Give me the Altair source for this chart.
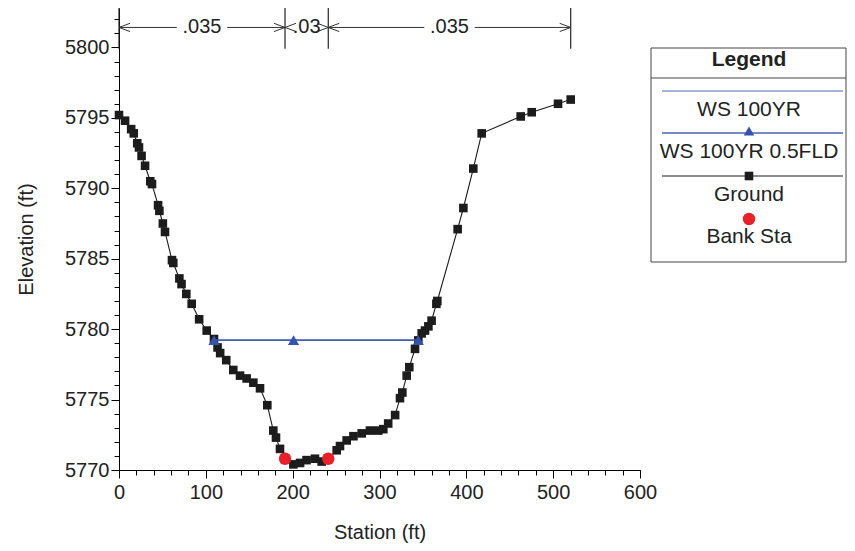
import altair as alt
import pandas as pd

# ---------------- data ----------------
ground_station = [0, 7, 14, 17, 21, 23, 26, 30, 36, 38, 45, 46.5, 50.5, 53, 61, 62.5,
                  69.5, 72, 77.5, 83.7, 92.3, 101, 109.4, 113.5, 116.5, 123.5, 131.6,
                  139.4, 147, 154.7, 162.4, 170.8, 177.7, 180.8, 185.4, 191.2, 200.8,
                  208.5, 216, 225.7, 233.4, 241, 250.7, 254.5, 262.2, 270, 279.5, 289,
                  298.6, 304.4, 310, 318, 323.6, 326.3, 331.3, 334.3, 340.9, 344.7,
                  348.6, 352.4, 356.3, 360, 365.5, 366.6, 390, 396.6, 408, 417.7,
                  462.6, 475.3, 505.6, 520.2]
ground_elev = [5795.2, 5794.8, 5794.2, 5793.9, 5793.2, 5792.9, 5792.3, 5791.6, 5790.5,
               5790.3, 5788.8, 5788.4, 5787.5, 5786.9, 5784.9, 5784.7, 5783.6, 5783.2,
               5782.5, 5781.8, 5780.7, 5779.9, 5779.3, 5778.7, 5778.3, 5777.8, 5777.1,
               5776.7, 5776.5, 5776.2, 5775.8, 5774.6, 5772.8, 5772.3, 5771.5, 5770.8,
               5770.4, 5770.5, 5770.7, 5770.8, 5770.6, 5770.8, 5771.4, 5771.7, 5772.1,
               5772.4, 5772.6, 5772.8, 5772.8, 5772.9, 5773.3, 5773.9, 5775.1, 5775.5,
               5776.7, 5777.3, 5778.6, 5779.2, 5779.7, 5779.9, 5780.2, 5780.6, 5781.8,
               5782.0, 5787.1, 5788.6, 5791.4, 5793.9, 5795.1, 5795.4, 5796.0, 5796.3]

ws_station = [109.4, 201.0, 344.7]
ws_100yr_elev = [5779.22, 5779.22, 5779.22]
ws_05fld_elev = [5779.22, 5779.22, 5779.22]

bank_station = [191.2, 241.0]
bank_elev = [5770.8, 5770.8]

n_break_station = [0, 191.2, 241.0, 520.2]
n_values = [".035", ".03", ".035"]
n_label_elev = 5801.42
n_line_bottom = 5799.9

x_major = [0, 100, 200, 300, 400, 500, 600]
x_minor = list(range(0, 601, 20))
y_major = [5770, 5775, 5780, 5785, 5790, 5795, 5800]
y_minor = list(range(5770, 5803))

legend_labels = ["WS 100YR", "WS 100YR 0.5FLD", "Ground", "Bank Sta"]

# ---------------- styling ----------------
FONT = "Liberation Sans"
BLUE = "#3553aa"
BLUE_LIGHT = "#4a64b4"
BLACK = "#1c1c1c"
RED = "#e8202a"
X_DOMAIN = [0, 600]
Y_DOMAIN = [5770, 5802.8]
W, H = 521, 462
FS = 20

xs = alt.Scale(domain=X_DOMAIN, nice=False, zero=False)
ys = alt.Scale(domain=Y_DOMAIN, nice=False, zero=False)

ground = pd.DataFrame({"station": ground_station, "elev": ground_elev})
ws1 = pd.DataFrame({"station": ws_station, "elev": ws_100yr_elev})
ws2 = pd.DataFrame({"station": ws_station, "elev": ws_05fld_elev})
bank = pd.DataFrame({"station": bank_station, "elev": bank_elev})
one = pd.DataFrame({"a": [0]})

major_x_axis = alt.Axis(values=x_major, title="Station (ft)", orient="bottom", tickSize=8,
                        labelFontSize=FS, titleFontSize=FS, labelFont=FONT, titleFont=FONT,
                        labelColor="#222", titleColor="#222", titleFontWeight="normal",
                        labelPadding=4, titlePadding=20, domainColor="#000", tickColor="#000",
                        grid=False, format="d", labelFlush=False)
major_y_axis = alt.Axis(values=y_major, title="Elevation (ft)", orient="left", tickSize=8,
                        labelFontSize=FS, titleFontSize=FS, labelFont=FONT, titleFont=FONT,
                        labelColor="#222", titleColor="#222", titleFontWeight="normal",
                        labelPadding=2, titlePadding=28, domainColor="#000", tickColor="#000",
                        grid=False, format="d", labelFlush=False)
minor_x_axis = alt.Axis(values=x_minor, title=None, orient="bottom", tickSize=5, labels=False,
                        domain=False, tickColor="#000", grid=False)
minor_y_axis = alt.Axis(values=y_minor, title=None, orient="left", tickSize=5, labels=False,
                        domain=False, tickColor="#000", grid=False)

ground_line = alt.Chart(ground).mark_line(color=BLACK, strokeWidth=1.1).encode(
    x=alt.X("station:Q", scale=xs, axis=major_x_axis),
    y=alt.Y("elev:Q", scale=ys, axis=major_y_axis),
)
ground_pts = alt.Chart(ground).mark_square(color=BLACK, size=74, opacity=1).encode(
    x=alt.X("station:Q", scale=xs, axis=minor_x_axis),
    y=alt.Y("elev:Q", scale=ys, axis=minor_y_axis),
)

ws1_line = alt.Chart(ws1).mark_line(color=BLUE_LIGHT, strokeWidth=1.3).encode(
    x=alt.X("station:Q", scale=xs, axis=None), y=alt.Y("elev:Q", scale=ys, axis=None))
ws2_line = alt.Chart(ws2).mark_line(color=BLUE, strokeWidth=1.3).encode(
    x=alt.X("station:Q", scale=xs, axis=None), y=alt.Y("elev:Q", scale=ys, axis=None))
ws2_pts = alt.Chart(ws2).mark_point(shape="triangle-up", filled=True, color=BLUE, size=125,
                                     opacity=1).encode(
    x=alt.X("station:Q", scale=xs, axis=None), y=alt.Y("elev:Q", scale=ys, axis=None))
bank_pts = alt.Chart(bank).mark_circle(color=RED, size=155, opacity=1).encode(
    x=alt.X("station:Q", scale=xs, axis=None), y=alt.Y("elev:Q", scale=ys, axis=None))

# ---- Manning's n annotation ----
HALF_GAP = 29
seg_rows, lab_rows, lchev, rchev = [], [], [], []
for i, n in enumerate(n_values):
    a, b = n_break_station[i], n_break_station[i + 1]
    mid = (a + b) / 2
    lab_rows.append({"station": mid, "elev": n_label_elev, "n": n})
    lchev.append({"station": a, "elev": n_label_elev})
    rchev.append({"station": b, "elev": n_label_elev})
    if b - a > 2 * HALF_GAP + 10:
        seg_rows.append({"s1": a, "s2": mid - HALF_GAP, "elev": n_label_elev})
        seg_rows.append({"s1": mid + HALF_GAP, "s2": b, "elev": n_label_elev})
segs = pd.DataFrame(seg_rows)
labs = pd.DataFrame(lab_rows)
vlines = pd.DataFrame({"station": n_break_station,
                       "top": [Y_DOMAIN[1]] * len(n_break_station),
                       "bot": [n_line_bottom] * len(n_break_station)})

n_segs = alt.Chart(segs).mark_rule(color="#333", strokeWidth=1).encode(
    x=alt.X("s1:Q", scale=xs, axis=None), x2="s2:Q",
    y=alt.Y("elev:Q", scale=ys, axis=None))
n_vl = alt.Chart(vlines).mark_rule(color="#222", strokeWidth=1.2).encode(
    x=alt.X("station:Q", scale=xs, axis=None),
    y=alt.Y("top:Q", scale=ys, axis=None), y2="bot:Q")
n_text = alt.Chart(labs).mark_text(font=FONT, fontSize=FS, color="#222", baseline="middle",
                                   align="center").encode(
    x=alt.X("station:Q", scale=xs, axis=None), y=alt.Y("elev:Q", scale=ys, axis=None),
    text="n:N")
l_chev = alt.Chart(pd.DataFrame(lchev)).mark_point(
    shape="M2,-0.75L0,0L2,0.75", filled=False, size=121, color="#333", strokeWidth=1,
    opacity=1).encode(x=alt.X("station:Q", scale=xs, axis=None),
                      y=alt.Y("elev:Q", scale=ys, axis=None))
r_chev = alt.Chart(pd.DataFrame(rchev)).mark_point(
    shape="M-2,-0.75L0,0L-2,0.75", filled=False, size=121, color="#333", strokeWidth=1,
    opacity=1).encode(x=alt.X("station:Q", scale=xs, axis=None),
                      y=alt.Y("elev:Q", scale=ys, axis=None))

# ---- custom legend (pixel positions relative to plot origin) ----
LX = 630
LX1, LX2 = 543, 724
LFS = 21


def lg_text(txt, y, bold=False):
    return alt.Chart(one).mark_text(text=txt, font=FONT, fontSize=LFS, color="#222",
                                    fontWeight="bold" if bold else "normal",
                                    baseline="middle", align="center").encode(
        x=alt.value(LX), y=alt.value(y))


def lg_rule(y, color, width=1):
    return alt.Chart(one).mark_rule(color=color, strokeWidth=width).encode(
        x=alt.value(LX1), x2=alt.value(LX2), y=alt.value(y))


lg_box = alt.Chart(one).mark_rect(fill="white", stroke="#444", strokeWidth=1).encode(
    x=alt.value(532), x2=alt.value(727), y=alt.value(40), y2=alt.value(254))
lg_sep = alt.Chart(one).mark_rule(color="#444", strokeWidth=1).encode(
    x=alt.value(532), x2=alt.value(727), y=alt.value(70))
lg_tri = alt.Chart(one).mark_point(shape="triangle-up", filled=True, color=BLUE, size=110,
                                   opacity=1).encode(x=alt.value(LX), y=alt.value(123))
lg_sq = alt.Chart(one).mark_square(color=BLACK, size=74, opacity=1).encode(
    x=alt.value(LX), y=alt.value(168))
lg_circ = alt.Chart(one).mark_circle(color=RED, size=155, opacity=1).encode(
    x=alt.value(LX), y=alt.value(211))

legend_layers = [
    lg_box, lg_sep,
    lg_text("Legend", 52, bold=True),
    lg_rule(83, BLUE_LIGHT, 1),
    lg_text(legend_labels[0], 102),
    lg_rule(125, BLUE_LIGHT, 1.3), lg_tri,
    lg_text(legend_labels[1], 144),
    lg_rule(168, BLACK, 1.2), lg_sq,
    lg_text(legend_labels[2], 187),
    lg_circ,
    lg_text(legend_labels[3], 229),
]

chart = alt.layer(
    ground_line, ground_pts, ws1_line, ws2_line, ws2_pts, bank_pts,
    n_vl, n_segs, l_chev, r_chev, n_text,
    *legend_layers,
).resolve_axis(x="independent", y="independent").properties(
    width=W, height=H,
    background="white",
    autosize=alt.AutoSizeParams(type="none"),
    padding={"left": 111, "top": 0, "right": 207, "bottom": 73},
).configure_view(strokeWidth=0, stroke="transparent")

chart.save("out.html", embed_options={"renderer": "svg", "actions": False})
